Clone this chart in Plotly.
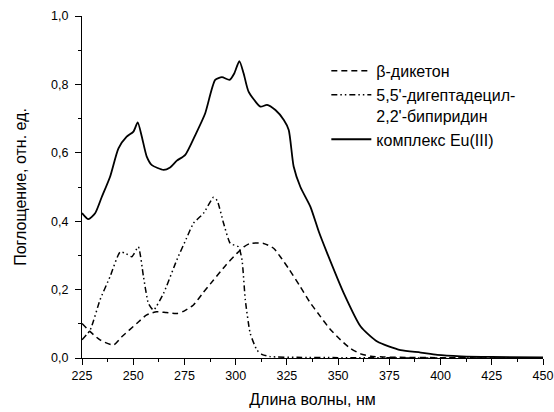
import plotly.graph_objects as go

# β-дикетон
wl_diketone = [225, 229, 233.8, 240.3, 244.4, 251.7, 256.6, 261.5, 266, 271.3, 275, 279.4, 284, 289.2, 295, 300.6, 304, 307.1, 313.6, 318.5, 321.8, 326, 331.6, 336, 341.4, 346, 351.2, 356, 361, 366, 372, 380, 400, 425, 450]
abs_diketone = [0.101, 0.077, 0.053, 0.038, 0.062, 0.101, 0.126, 0.135, 0.133, 0.13, 0.138, 0.155, 0.19, 0.228, 0.27, 0.306, 0.325, 0.335, 0.335, 0.321, 0.296, 0.26, 0.208, 0.165, 0.121, 0.085, 0.053, 0.028, 0.012, 0.005, 0.003, 0.002, 0.001, 0.0, 0.0]

# 5,5'-дигептадецил-2,2'-бипиридин
wl_bipy = [225, 229, 233.8, 238.7, 243.6, 246.5, 249.3, 252.5, 255, 257.4, 259.9, 264.8, 271.3, 276, 279.4, 284.3, 289.2, 291, 294.1, 297.4, 301.4, 303.1, 304.7, 307.1, 310.4, 313, 316.9, 330, 350, 400, 450]
abs_bipy = [0.053, 0.082, 0.17, 0.238, 0.31, 0.305, 0.296, 0.325, 0.238, 0.16, 0.14, 0.189, 0.287, 0.35, 0.394, 0.423, 0.47, 0.46, 0.394, 0.335, 0.325, 0.287, 0.17, 0.072, 0.023, 0.01, 0.004, 0.002, 0.001, 0.0, 0.0]

# комплекс Eu(III)
wl_complex = [225, 228.1, 231.4, 234.6, 238.7, 242.8, 246.8, 250.1, 252.2, 254.2, 256.6, 259.1, 264.8, 268, 271.3, 275.4, 280.3, 285.1, 290, 293.3, 297, 299.3, 301.8, 303.9, 306.3, 312.1, 315.3, 319.4, 323.5, 325.9, 328.3, 331.6, 336.5, 340.6, 344.7, 352.8, 361, 369.1, 380.5, 390.3, 398.4, 410, 425, 450]
abs_complex = [0.424, 0.406, 0.423, 0.47, 0.53, 0.613, 0.647, 0.662, 0.689, 0.647, 0.589, 0.564, 0.55, 0.557, 0.577, 0.594, 0.652, 0.715, 0.813, 0.821, 0.813, 0.832, 0.868, 0.832, 0.779, 0.735, 0.74, 0.725, 0.696, 0.667, 0.56, 0.5, 0.442, 0.369, 0.306, 0.189, 0.092, 0.048, 0.023, 0.016, 0.009, 0.005, 0.003, 0.002]

names = ["β-дикетон", "5,5'-дигептадецил-<br>2,2'-бипиридин", "комплекс Eu(III)"]

fig = go.Figure()
fig.add_trace(go.Scatter(x=wl_diketone, y=abs_diketone, mode="lines", name=names[0],
                         line=dict(color="black", width=1.5, dash="6px,4px", shape="spline", smoothing=0.6)))
fig.add_trace(go.Scatter(x=wl_bipy, y=abs_bipy, mode="lines", name=names[1],
                         line=dict(color="black", width=1.5, dash="6px,3px,1.5px,3px,1.5px,3px", shape="spline", smoothing=0.5)))
fig.add_trace(go.Scatter(x=wl_complex, y=abs_complex, mode="lines", name=names[2],
                         line=dict(color="black", width=1.8, shape="spline", smoothing=0.6)))

font_family = "Liberation Sans, Arial, sans-serif"
fig.update_layout(
    width=554, height=412,
    margin=dict(l=82, r=11, t=16, b=54),
    paper_bgcolor="white", plot_bgcolor="white",
    separators=", ",
    font=dict(family=font_family, size=12, color="black"),
    showlegend=True,
    legend=dict(x=0.53, y=0.889, xanchor="left", yanchor="top",
                bgcolor="rgba(0,0,0,0)", font=dict(size=16, family=font_family),
                valign="top", tracegroupgap=0, itemwidth=40),
    xaxis=dict(range=[225, 450], tick0=225, dtick=25, showgrid=False, zeroline=False,
               showline=True, linecolor="black", linewidth=1, automargin=False,
               ticks="outside", ticklen=6, tickwidth=1, tickcolor="black",
               tickfont=dict(size=12.5),
               minor=dict(ticks="outside", ticklen=3, dtick=12.5, tickcolor="black", tickwidth=1),
               title=dict(text="Длина волны, нм", font=dict(size=16), standoff=11)),
    yaxis=dict(range=[0, 1.0], tick0=0, dtick=0.2, tickformat=".1f", showgrid=False, zeroline=False,
               showline=True, linecolor="black", linewidth=1, automargin=False,
               ticks="outside", ticklen=6, tickwidth=1, tickcolor="black",
               tickfont=dict(size=12.5), ticklabelstandoff=4,
               minor=dict(ticks="outside", ticklen=3, dtick=0.1, tickcolor="black", tickwidth=1),
               title=dict(text="Поглощение, отн. ед.", font=dict(size=16), standoff=20)),
)

fig.write_html("out.html")
